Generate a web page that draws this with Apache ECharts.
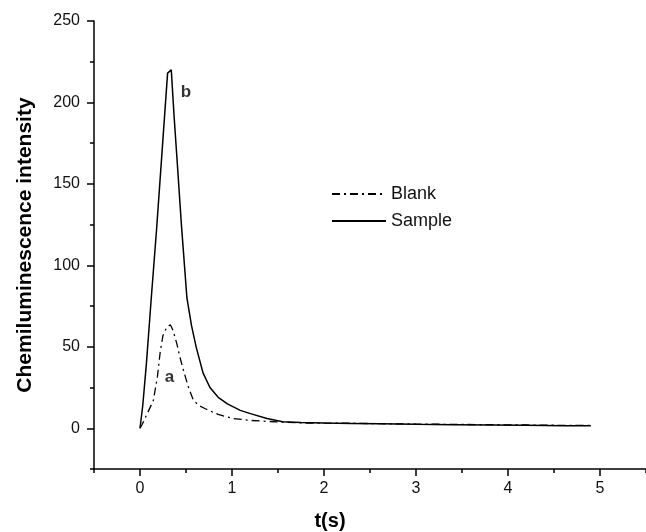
<!DOCTYPE html>
<html>
<head>
<meta charset="utf-8">
<script src="https://cdn.jsdelivr.net/npm/echarts@6/dist/echarts.min.js"></script>
<style>html,body{margin:0;padding:0;background:#fff}#c{width:646px;height:532px}</style>
</head>
<body>
<div id="c"></div>
<script>
// ---- data ----
var sampleT = [0, 0.03, 0.07, 0.12, 0.18, 0.24, 0.30, 0.34, 0.37, 0.405, 0.45, 0.51, 0.56, 0.61, 0.685, 0.76, 0.85, 0.95, 1.09, 1.2, 1.38, 1.55, 1.75, 2.0, 2.3, 2.6, 3.0, 3.4, 3.8, 4.2, 4.6, 4.9];
var sampleV = [0, 14, 40, 78, 122, 170, 218, 220, 192, 163, 125, 80, 63, 50, 34, 25, 19, 15, 11, 9, 6, 4, 3.5, 3.2, 3, 2.8, 2.4, 2.2, 2, 1.8, 1.6, 1.5];
var blankT = [0, 0.02, 0.07, 0.145, 0.19, 0.22, 0.25, 0.29, 0.33, 0.36, 0.40, 0.43, 0.48, 0.53, 0.58, 0.64, 0.71, 0.85, 1.01, 1.2, 1.49, 1.8, 2.2, 2.6, 3.0, 3.4, 3.8, 4.2, 4.6, 4.9];
var blankV = [0, 2, 8, 17, 32, 47, 57, 62, 63.5, 60, 52, 44.5, 34, 24.6, 17.2, 14, 12, 8.5, 6, 4.8, 3.9, 3.2, 3.2, 2.8, 2.6, 2.4, 2.2, 2, 1.8, 1.8];
var seriesNames = ['Blank', 'Sample'];
var xMajorTicks = [0, 1, 2, 3, 4, 5];
var xMinorTicks = [-0.5, 0.5, 1.5, 2.5, 3.5, 4.5, 5.5];
var yMajorTicks = [0, 50, 100, 150, 200, 250];
var yMinorTicks = [-25, 25, 75, 125, 175, 225];
var curveLabels = [{t: 0.5, v: 206, text: 'b'}, {t: 0.32, v: 31, text: 'a'}];
var xTitle = 't(s)';
var yTitle = 'Chemiluminescence intensity';

function pairs(t, v) { return t.map(function (x, i) { return [x, v[i]]; }); }

var FONT = 'Liberation Sans, Arial, Helvetica, sans-serif';
var chart = echarts.init(document.getElementById('c'), null, {renderer: 'canvas'});

var axisLineStyle = {color: '#000', width: 1.5};
var tickStyle = {color: '#000', width: 1.5};
var gridRect = {left: 94, right: 0, top: 21, bottom: 63, containLabel: false};

chart.setOption({
  animation: false,
  backgroundColor: '#fff',
  grid: [gridRect, gridRect],
  legend: {
    data: seriesNames,
    orient: 'vertical',
    left: 326,
    top: 180,
    padding: 5,
    itemWidth: 54,
    itemHeight: 14,
    itemGap: 9,
    itemStyle: {opacity: 0},
    textStyle: {fontFamily: FONT, fontSize: 18, color: '#111'}
  },
  xAxis: [{
    gridIndex: 0, type: 'value', min: -0.5, max: 5.5, interval: 0.5,
    axisLine: {show: true, onZero: false, lineStyle: axisLineStyle},
    axisTick: {show: true, length: 7, lineStyle: tickStyle, customValues: xMajorTicks},
    axisLabel: {show: true, margin: 12, fontFamily: FONT, fontSize: 16, color: '#111', customValues: xMajorTicks},
    splitLine: {show: false}
  }, {
    gridIndex: 1, type: 'value', min: -0.5, max: 5.5, interval: 0.5,
    axisLine: {show: false, onZero: false},
    axisTick: {show: true, length: 4, lineStyle: tickStyle, customValues: xMinorTicks},
    axisLabel: {show: false},
    splitLine: {show: false}
  }],
  yAxis: [{
    gridIndex: 0, type: 'value', min: -25, max: 250, interval: 25,
    name: yTitle, nameLocation: 'middle', nameGap: 58,
    nameTextStyle: {fontFamily: FONT, fontSize: 21, fontWeight: 'bold', color: '#000'},
    axisLine: {show: true, onZero: false, lineStyle: axisLineStyle},
    axisTick: {show: true, length: 7, lineStyle: tickStyle, customValues: yMajorTicks},
    axisLabel: {show: true, margin: 14, fontFamily: FONT, fontSize: 16, color: '#111', customValues: yMajorTicks},
    splitLine: {show: false}
  }, {
    gridIndex: 1, type: 'value', min: -25, max: 250, interval: 25,
    axisLine: {show: false, onZero: false},
    axisTick: {show: true, length: 4, lineStyle: tickStyle, customValues: yMinorTicks},
    axisLabel: {show: false},
    splitLine: {show: false}
  }],
  graphic: [{
    type: 'text', x: 330, y: 521,
    style: {text: xTitle, fontFamily: FONT, fontSize: 20, fontWeight: 'bold', fill: '#000', align: 'center', verticalAlign: 'middle'}
  }],
  series: [{
    name: seriesNames[0], type: 'line', data: pairs(blankT, blankV),
    xAxisIndex: 0, yAxisIndex: 0,
    showSymbol: false, symbol: 'none', smooth: false,
    lineStyle: {color: '#000', width: 1.3, type: [8, 4, 2, 4]},
    itemStyle: {color: '#000'}, z: 2
  }, {
    name: seriesNames[1], type: 'line', data: pairs(sampleT, sampleV),
    xAxisIndex: 0, yAxisIndex: 0,
    showSymbol: false, symbol: 'none', smooth: false,
    lineStyle: {color: '#000', width: 1.5, type: 'solid'},
    itemStyle: {color: '#000'}, z: 3
  }, {
    type: 'scatter', symbolSize: 0, silent: true, xAxisIndex: 0, yAxisIndex: 0,
    data: curveLabels.map(function (d) { return {value: [d.t, d.v], label: {formatter: d.text}}; }),
    label: {show: true, position: 'inside', fontFamily: FONT, fontSize: 17, fontWeight: 'bold', color: '#000'},
    z: 4
  }]
});
</script>
</body>
</html>
